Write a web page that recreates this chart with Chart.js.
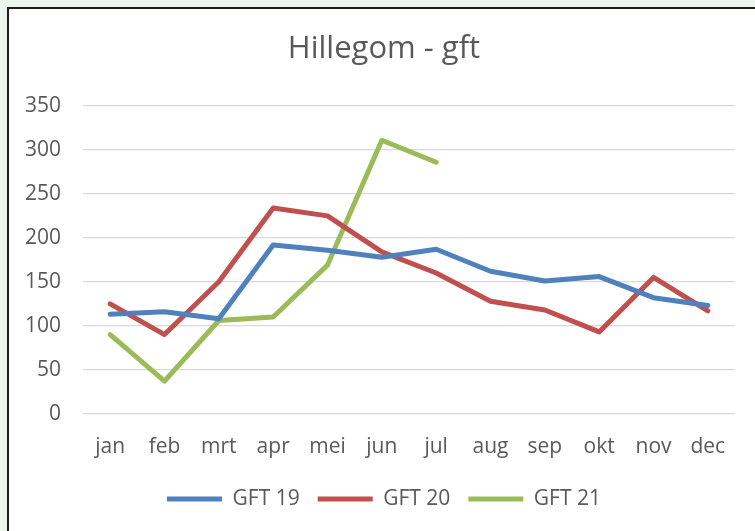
<!DOCTYPE html>
<html>
<head>
<meta charset="utf-8">
<script src="https://cdn.jsdelivr.net/npm/chart.js@4/dist/chart.umd.min.js"></script>
<style>
    html, body { margin: 0; padding: 0; overflow: hidden; background: #edf6ee; width: 755px; height: 531px; }
    #frame { position: absolute; left: 7px; top: 7px; width: 800px; height: 600px; background: #fff; border-left: 2px solid #1e1e1e; border-top: 2px solid #1e1e1e; }
    #chart { position: absolute; left: 0; top: 0; }
</style>
</head>
<body>
<div id="frame"></div>
<canvas id="chart" width="770" height="531"></canvas>
<script>
const months = ['jan', 'feb', 'mrt', 'apr', 'mei', 'jun', 'jul', 'aug', 'sep', 'okt', 'nov', 'dec'];
const gft19 = [113, 116, 108, 192, 186, 178, 187, 162, 151, 156, 132, 123];
const gft20 = [125, 90, 150, 234, 225, 184, 160, 128, 118, 93, 155, 117];
const gft21 = [90, 37, 106, 110, 169, 311, 286];
const yTicks = [0, 50, 100, 150, 200, 250, 300, 350];

const textColor = '#595959';
const font = 'Open Sans';

function lineSet(label, data, color) {
    return {
        label: label,
        data: data,
        borderColor: color,
        backgroundColor: color,
        borderWidth: 5,
        borderCapStyle: 'round',
        borderJoinStyle: 'round',
        pointRadius: 0,
        tension: 0
    };
}

new Chart(document.getElementById('chart'), {
    type: 'line',
    data: {
        labels: months,
        datasets: [
            lineSet('GFT 19', gft19, '#4f81bd'),
            lineSet('GFT 20', gft20, '#c0504d'),
            lineSet('GFT 21', gft21, '#9bbb59')
        ]
    },
    options: {
        responsive: false,
        animation: false,
        devicePixelRatio: 1,
        layout: { padding: { left: 7, right: 9, top: 0, bottom: 11.5 } },
        plugins: {
            title: {
                display: true,
                text: 'Hillegom - gft',
                color: textColor,
                font: { family: font, size: 31, weight: 'normal' },
                padding: { top: 31, bottom: 37.8 }
            },
            legend: {
                position: 'bottom',
                labels: {
                    color: textColor,
                    font: { family: font, size: 21 },
                    usePointStyle: true,
                    pointStyle: 'line',
                    pointStyleWidth: 55,
                    padding: 18
                }
            },
            tooltip: { enabled: false }
        },
        scales: {
            x: {
                offset: true,
                grid: { display: false },
                border: { display: false },
                ticks: {
                    color: textColor,
                    font: { family: font, size: 21 },
                    padding: 13,
                    maxRotation: 0
                },
                afterFit: s => { s.height = 56.8; }
            },
            y: {
                min: 0,
                max: 350,
                grid: { color: '#d9d9d9', lineWidth: 1.3, drawTicks: false },
                border: { display: false },
                afterBuildTicks: s => { s.ticks = yTicks.map(v => ({ value: v })); },
                ticks: {
                    color: textColor,
                    font: { family: font, size: 21 },
                    padding: 22
                },
                afterFit: s => { s.width = 76; }
            },
            spare: {
                position: 'right',
                display: true,
                grid: { display: false },
                border: { display: false },
                ticks: { display: false },
                afterFit: s => { s.width = 26; }
            }
        }
    }
});
</script>
</body>
</html>
